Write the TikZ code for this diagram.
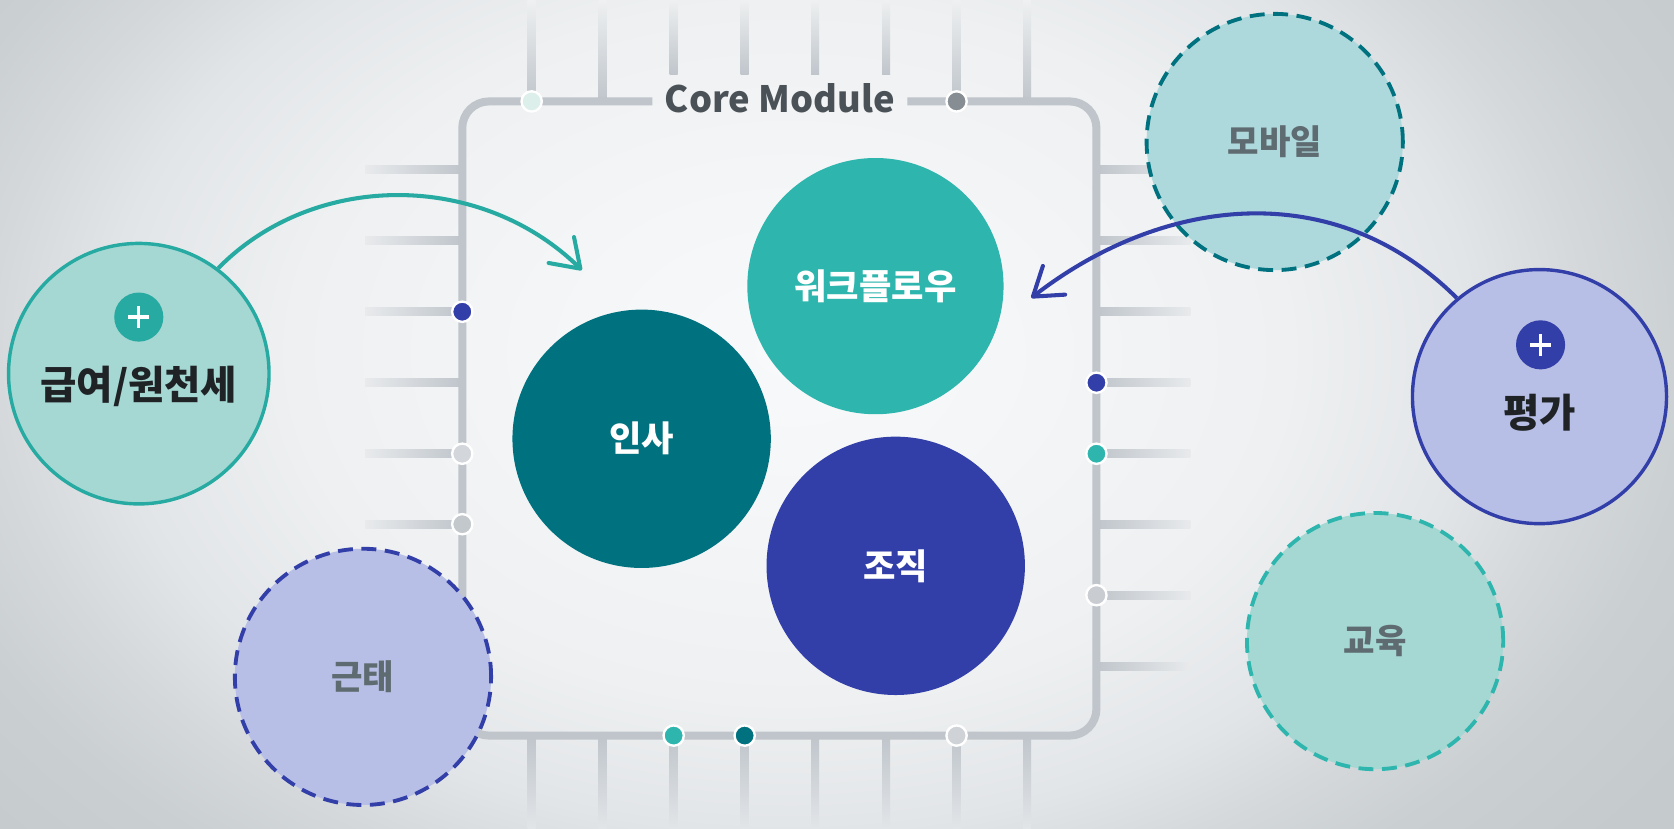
\documentclass[tikz,border=0pt]{standalone}
\usepackage{fontspec}
\setmainfont{Noto Sans CJK KR}
\usetikzlibrary{arrows.meta}
\definecolor{railc}{HTML}{BFC5CB}
\definecolor{dteal}{HTML}{00717F}
\definecolor{teal2}{HTML}{2EB6AE}
\definecolor{tealline}{HTML}{26AAA2}
\definecolor{indigo}{HTML}{333FA8}
\definecolor{lteal}{HTML}{A5D7D3}
\definecolor{lteal2}{HTML}{ADD8DC}
\definecolor{lav}{HTML}{B8BFE6}
\definecolor{greytxt}{HTML}{5E6B70}
\definecolor{darktxt}{HTML}{1F2326}
\definecolor{coretxt}{HTML}{4A5258}
\definecolor{fadetop}{HTML}{EEF0F1}
\definecolor{fadebot}{HTML}{E2E5E8}
\definecolor{fadeside}{HTML}{E8EAEC}
\definecolor{bgA}{HTML}{F8F9FA}
\definecolor{bgB}{HTML}{F5F6F7}
\definecolor{bgC}{HTML}{EEF0F1}
\definecolor{bgD}{HTML}{E2E5E8}
\definecolor{bgE}{HTML}{D4D8DB}
\definecolor{bgF}{HTML}{CACFD2}
\definecolor{bgG}{HTML}{C5CACD}
\pgfdeclareradialshading{bgsh}{\pgfpoint{0bp}{0bp}}{color(0bp)=(bgA); color(3.3bp)=(bgB); color(7.8bp)=(bgC); color(10.7bp)=(bgD); color(12.5bp)=(bgE); color(14.2bp)=(bgF); color(16.7bp)=(bgG); color(50bp)=(bgG)}
\begin{document}
\begin{tikzpicture}[x=1pt,y=-1pt,
  dot/.style={circle, inner sep=0pt, minimum size=19pt, draw=white, line width=2.2pt},
  big/.style={circle, inner sep=0pt, minimum size=242pt, text=white, font=\bfseries\fontsize{33}{33}\selectfont},
  dcirc/.style={circle, inner sep=0pt, minimum size=240pt, line width=3.6pt, dash pattern=on 14pt off 8pt, text=greytxt, font=\bfseries\fontsize{32}{32}\selectfont},
  scirc/.style={circle, inner sep=0pt, line width=3.2pt},
  plusc/.style={circle, inner sep=0pt, minimum size=46pt},
  biglbl/.style={text=darktxt, font=\bfseries\fontsize{37}{37}\selectfont},
  rail/.style={railc, line width=7.5pt},
  arr/.style={line width=3.8pt, -{Straight Barb[length=25pt, width=34pt, round]}}
]
\useasboundingbox (0,0) rectangle (1568,776);
\begin{scope}
  \clip (0,0) rectangle (1568,776);
  \shade[shading=bgsh] (740,330) ellipse [x radius=1500, y radius=1050];
\end{scope}
% pins
\foreach \x in {498,564.5,896,962} {
  \shade[top color=fadetop, bottom color=railc] (\x-3.75,0) rectangle (\x+3.75,95);
}
\foreach \x in {631,697.5,763.5,830} {
  \shade[top color=fadetop, bottom color=railc] (\x-3.75,0) rectangle (\x+3.75,70);
}
\foreach \x in {498,564.5,631,697.5,763.5,830,896,962} {
  \shade[top color=railc, bottom color=fadebot] (\x-3.75,689) rectangle (\x+3.75,776);
}
\foreach \y in {159,225.5,292,358.5,425,491,557.5,624} {
  \shade[left color=fadeside, right color=railc] (342,\y-3.75) rectangle (433,\y+3.75);
  \shade[left color=railc, right color=fadeside] (1027,\y-3.75) rectangle (1115,\y+3.75);
}
% rail
\draw[rail, rounded corners=25pt] (611,95) -- (433,95) -- (433,689) -- (1027,689) -- (1027,95) -- (850,95);
\node[text=coretxt, inner sep=0pt, font=\bfseries\fontsize{34}{34}\selectfont] (core) at (730.5,92) {Core Module};
% dots
\node[dot, fill={rgb,255:red,220;green,239;blue,234}] (d1) at (498,95) {};
\node[dot, fill={rgb,255:red,134;green,142;blue,148}] (d2) at (896,95) {};
\node[dot, fill=teal2] (d3) at (631,689) {};
\node[dot, fill=dteal] (d4) at (697.5,689) {};
\node[dot, fill={rgb,255:red,207;green,211;blue,215}] (d5) at (896,689) {};
\node[dot, fill=indigo] (d6) at (433,292) {};
\node[dot, fill={rgb,255:red,211;green,215;blue,219}] (d7) at (433,425) {};
\node[dot, fill={rgb,255:red,195;green,200;blue,205}] (d8) at (433,491) {};
\node[dot, fill=indigo] (d9) at (1027,358.5) {};
\node[dot, fill=teal2] (d10) at (1027,425) {};
\node[dot, fill={rgb,255:red,201;green,205;blue,210}] (d11) at (1027,557.5) {};
% main circles
\node[big, fill=dteal] (insa) at (601,411) {인사};
\node[big, fill=teal2, minimum size=240pt] (wf) at (820,268) {워크플로우};
\node[big, fill=indigo] (org) at (839,530) {조직};
% dashed circles
\node[dcirc, fill=lteal2, draw=dteal] (mob) at (1194,133) {모바일};
\node[dcirc, fill=lav, draw=indigo] (gt) at (340,634) {근태};
\node[dcirc, fill=lteal, draw=teal2] (edu) at (1288,600.5) {교육};
% solid outer circles
\node[scirc, minimum size=244pt, fill=lteal, draw=tealline] (pay) at (130,350) {};
\node[plusc, fill=tealline] (payplus) at (130,297) {};
\draw[white, line width=3.2pt] (120,297) -- (140,297) (130,287) -- (130,307);
\node[biglbl] (paylbl) at (130,362) {급여/원천세};
\node[scirc, minimum size=238pt, fill=lav, draw=indigo] (eval) at (1442,371.5) {};
\node[plusc, fill=indigo] (evalplus) at (1443,323) {};
\draw[white, line width=3.2pt] (1433,323) -- (1453,323) (1443,313) -- (1443,333);
\node[biglbl] (evallbl) at (1442,387) {평가};
% arrows
\coordinate (tipA) at (545,253);
\coordinate (tipB) at (966,279);
\draw[arr, tealline] (pay.53) .. controls (294,160) and (450,160) .. (tipA);
\draw[arr, indigo] (eval.130) .. controls (1250,165) and (1090,183) .. (tipB);
\end{tikzpicture}
\end{document}
